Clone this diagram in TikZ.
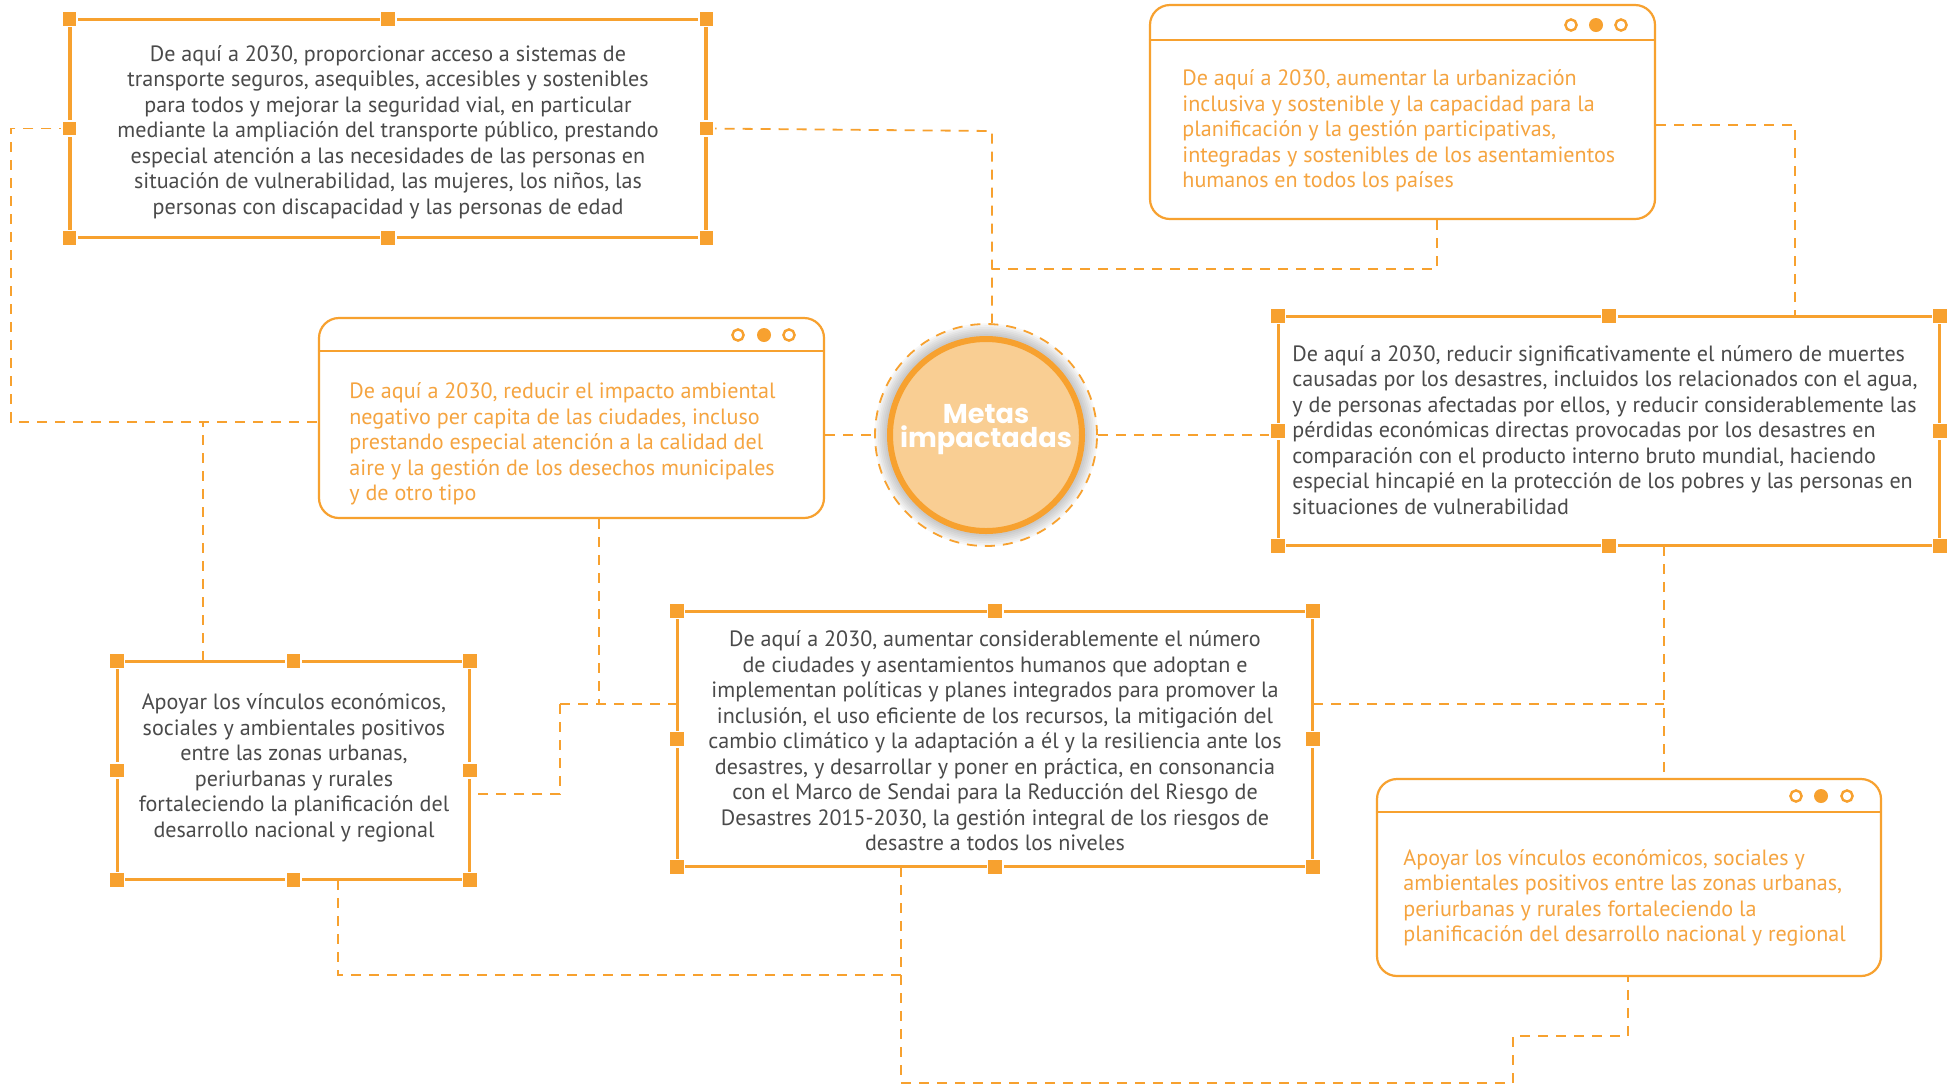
\documentclass[tikz,border=0pt]{standalone}
\usepackage{fontspec}
\setmainfont{PT Sans}
\newfontfamily\titlefont{Poppins}
\usetikzlibrary{calc}
\definecolor{org}{HTML}{F7A12F}
\definecolor{orgtxt}{HTML}{F5A440}
\definecolor{gtxt}{HTML}{4A4A4A}
\definecolor{cfill}{HTML}{F9CE93}
\tikzset{
  sqframe/.style={draw=org, line width=1.1pt, fill=white, rectangle, inner sep=0pt},
  winframe/.style={draw=org, line width=1.1pt, fill=white, rectangle, rounded corners=10pt, inner sep=0pt},
  handle/.style={fill=org, draw=white, line width=0.9pt, minimum size=7.6pt, inner sep=0pt, rectangle},
  conn/.style={draw=org, line width=0.9pt, dash pattern=on 5pt off 4pt},
  gtext/.style={text=gtxt, inner sep=0pt, font=\fontsize{11.05pt}{12.75pt}\selectfont},
  otext/.style={text=orgtxt, inner sep=0pt, font=\fontsize{11.05pt}{12.75pt}\selectfont, align=left, anchor=west},
  dotopen/.style={draw=org, line width=1.2pt, fill=white, circle, minimum size=5.6pt, inner sep=0pt},
  dotfull/.style={fill=org, circle, minimum size=7pt, inner sep=0pt},
}
\begin{document}
\begin{tikzpicture}[x=0.5pt, y=-0.5pt]
\useasboundingbox (0,0) rectangle (1954,1084);
\fill[white] (0,0) rectangle (1954,1084);

% frames
\node[sqframe, minimum width=317.5pt, minimum height=108.5pt] (A) at (388,128.5) {};
\node[winframe, minimum width=252.5pt, minimum height=107pt] (B) at (1402.5,112) {};
\node[winframe, minimum width=252.5pt, minimum height=100pt] (C) at (571.5,418) {};
\node[sqframe, minimum width=330pt, minimum height=114pt] (D) at (1609,431) {};
\node[sqframe, minimum width=175.5pt, minimum height=108.5pt] (E) at (293.5,770.5) {};
\node[sqframe, minimum width=317pt, minimum height=127pt] (F) at (995,739) {};
\node[winframe, minimum width=252pt, minimum height=98.5pt] (G) at (1629,877.5) {};

% circle
\foreach \k in {1,...,7} \fill[black, opacity=0.03] (986,435) circle (99+1.8*\k);
\node[circle, fill=cfill, draw=org, line width=3pt, minimum size=96pt, inner sep=0pt] (core) at (986,435) {};
\node[circle, draw=org, line width=0.9pt, dash pattern=on 5pt off 4pt, minimum size=111pt, inner sep=0pt] (ring) at (986,435) {};
\node[text=white, align=center, font=\titlefont\bfseries\fontsize{13.6pt}{12pt}\selectfont] (title) at (986,430) {Metas\\impactadas};

% connectors
\coordinate (jA) at (992,131);
\draw[conn] (A.east) -- (jA) -- (jA |- ring.north);
\coordinate (jB) at (992,269);
\draw[conn] ([xshift=17.25pt]B.south) |- (jB);
\draw[conn] ([yshift=-6.5pt]B.east) -| ([xshift=93pt]D.north);
\coordinate (jL) at (11,422);
\draw[conn] (A.west) -| (jL) -- (C.west |- jL);
\draw[conn] ([xshift=-45.25pt]E.north) -- ([xshift=-45.25pt]E.north |- jL);
\draw[conn] (C.east |- ring.west) -- (ring.west);
\draw[conn] (ring.east) -- (ring.east -| D.west);
\coordinate (jC) at (599,704);
\draw[conn] ([xshift=13.75pt]C.south) -- (jC);
\coordinate (jC2) at (560,704);
\coordinate (jE) at (560,794);
\draw[conn] (jC2) -- (jC2 -| F.west);
\draw[conn] (jC2) -- (jE) -- (jE -| E.east);
\coordinate (jF) at (1664,704);
\draw[conn] (jF -| F.east) -- (jF);
\draw[conn] (jF |- D.south) -- (jF |- G.north);
\coordinate (jE2) at (338,975);
\coordinate (jE3) at (901,975);
\draw[conn] (jE2 |- E.south) -- (jE2) -- (jE3);
\coordinate (jF2) at (901,1083);
\coordinate (jG1) at (1513,1083);
\coordinate (jG2) at (1513,1036);
\coordinate (jG3) at (1628,1036);
\draw[conn] (jF2 |- F.south) -- (jF2) -- (jG1) -- (jG2) -- (jG3) -- (jG3 |- G.south);

% redraw frames on top (edges)
\foreach \n in {A,D,E,F} {
  \draw[org, line width=1.1pt] (\n.north west) rectangle (\n.south east);
  \foreach \a [count=\i] in {north west,north,north east,east,south east,south,south west,west}
    \node[handle] (\n-h\i) at (\n.\a) {};
}
% window headers and dots
\draw[org, line width=1.1pt] (B.west |- 0,40) -- (B.east |- 0,40);
\draw[org, line width=1.1pt] (C.west |- 0,351) -- (C.east |- 0,351);
\draw[org, line width=1.1pt] (G.west |- 0,812) -- (G.east |- 0,812);
\node[dotopen] (B-d1) at (1571,25) {}; \node[dotfull] (B-d2) at (1596,25) {}; \node[dotopen] (B-d3) at (1621,25) {};
\node[dotopen] (C-d1) at (738,335) {}; \node[dotfull] (C-d2) at (764,335) {}; \node[dotopen] (C-d3) at (789,335) {};
\node[dotopen] (G-d1) at (1796,796) {}; \node[dotfull] (G-d2) at (1821,796) {}; \node[dotopen] (G-d3) at (1847,796) {};

% texts
\node[gtext, align=center] (A-t) at (388,132) {De aquí a 2030, proporcionar acceso a sistemas de\\transporte seguros, asequibles, accesibles y sostenibles\\para todos y mejorar la seguridad vial, en particular\\mediante la ampliación del transporte público, prestando\\especial atención a las necesidades de las personas en\\situación de vulnerabilidad, las mujeres, los niños, las\\personas con discapacidad y las personas de edad};
\node[otext] (B-t) at (1182,131) {De aquí a 2030, aumentar la urbanización\\inclusiva y sostenible y la capacidad para la\\planificación y la gestión participativas,\\integradas y sostenibles de los asentamientos\\humanos en todos los países};
\node[otext] (C-t) at (349,444) {De aquí a 2030, reducir el impacto ambiental\\negativo per capita de las ciudades, incluso\\prestando especial atención a la calidad del\\aire y la gestión de los desechos municipales\\y de otro tipo};
\node[gtext, align=left, anchor=west] (D-t) at (1292,430) {De aquí a 2030, reducir significativamente el número de muertes\\causadas por los desastres, incluidos los relacionados con el agua,\\y de personas afectadas por ellos, y reducir considerablemente las\\pérdidas económicas directas provocadas por los desastres en\\comparación con el producto interno bruto mundial, haciendo\\especial hincapié en la protección de los pobres y las personas en\\situaciones de vulnerabilidad};
\node[gtext, align=center] (E-t) at (294,768) {Apoyar los vínculos económicos,\\sociales y ambientales positivos\\entre las zonas urbanas,\\periurbanas y rurales\\fortaleciendo la planificación del\\desarrollo nacional y regional};
\node[gtext, align=center] (F-t) at (995,741) {De aquí a 2030, aumentar considerablemente el número\\de ciudades y asentamientos humanos que adoptan e\\implementan políticas y planes integrados para promover la\\inclusión, el uso eficiente de los recursos, la mitigación del\\cambio climático y la adaptación a él y la resiliencia ante los\\desastres, y desarrollar y poner en práctica, en consonancia\\con el Marco de Sendai para la Reducción del Riesgo de\\Desastres 2015-2030, la gestión integral de los riesgos de\\desastre a todos los niveles};
\node[otext] (G-t) at (1403,898) {Apoyar los vínculos económicos, sociales y\\ambientales positivos entre las zonas urbanas,\\periurbanas y rurales fortaleciendo la\\planificación del desarrollo nacional y regional};
\end{tikzpicture}
\end{document}
